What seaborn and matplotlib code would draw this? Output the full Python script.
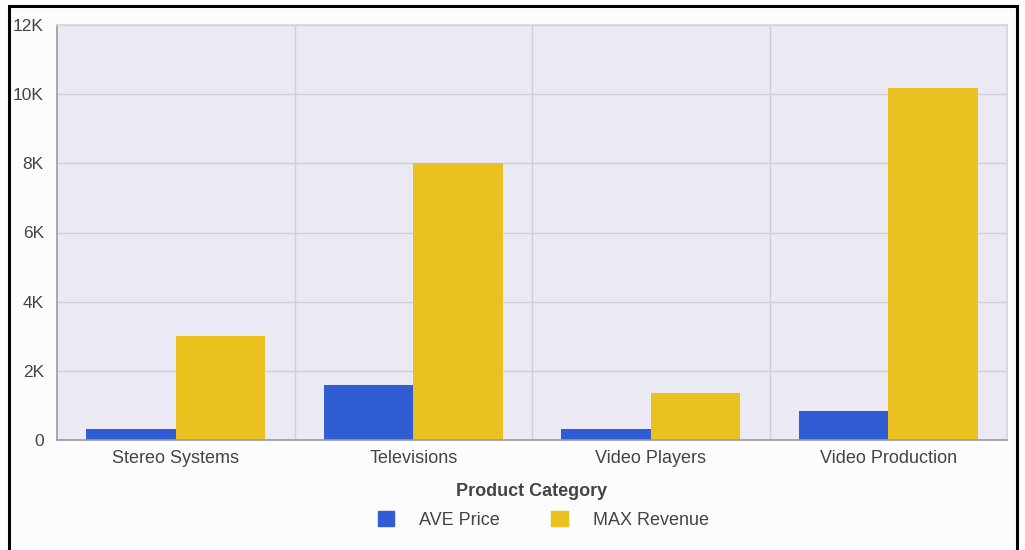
import pandas as pd
import seaborn as sns
import matplotlib.pyplot as plt
from matplotlib.patches import Rectangle
from matplotlib.ticker import FuncFormatter, FixedLocator

# data
categories = ["Stereo Systems", "Televisions", "Video Players", "Video Production"]
ave_price = [320, 1590, 320, 840]
max_revenue = [3020, 8010, 1360, 10180]
series_names = ["AVE Price", "MAX Revenue"]
colors = ["#315dd4", "#ebc11f"]

df = pd.DataFrame({
    "Product Category": categories * 2,
    "value": ave_price + max_revenue,
    "series": [series_names[0]] * 4 + [series_names[1]] * 4,
})

sns.set_theme(style="white")
plt.rcParams["font.family"] = ["Liberation Sans", "DejaVu Sans"]

fig = plt.figure(figsize=(10.25, 5.5), dpi=100, facecolor="#fbfcfb")
ax = fig.add_axes([57 / 1025, 1 - 440 / 550, 950 / 1025, 415 / 550])
ax.set_facecolor("#ebe9f3")

sns.barplot(data=df, x="Product Category", y="value", hue="series",
            palette=colors, width=0.755, saturation=1, ax=ax, legend=False)
for p in ax.patches:
    p.set_edgecolor("none")

ax.set_xlim(-0.5, 3.5)
ax.set_ylim(0, 12000)
ax.set_yticks(range(0, 12001, 2000))
ax.yaxis.set_major_formatter(FuncFormatter(lambda v, _: "0" if v == 0 else f"{int(v/1000)}K"))
ax.xaxis.set_minor_locator(FixedLocator([0.5, 1.5, 2.5]))
ax.grid(axis="y", which="major", color="#cfcfd4", lw=1)
ax.grid(axis="x", which="minor", color="#cfcfd4", lw=1)
ax.set_axisbelow(True)

ax.tick_params(axis="both", which="both", length=0, labelcolor="#444444", labelsize=13)
ax.tick_params(axis="y", pad=9.5, labelsize=12.5)
ax.tick_params(axis="x", pad=7)

for side in ["top", "right"]:
    ax.spines[side].set_color("#d6d6d8")
for side in ["left", "bottom"]:
    ax.spines[side].set_color("#9a9a9e")
    ax.spines[side].set_linewidth(1.2)

ax.set_ylabel("")
ax.set_xlabel("Product Category", fontsize=13, fontweight="bold", color="#444444", labelpad=12)

handles = [Rectangle((0, 0), 1, 1, color=c) for c in colors]
fig.legend(handles, series_names, loc="center", bbox_to_anchor=(0.53, 1 - 520 / 550),
           ncol=2, frameon=False, fontsize=13, handlelength=0.9, handleheight=0.9,
           columnspacing=2.85, handletextpad=1.4, labelcolor="#444444")

# outer frame
fig.add_artist(Rectangle((9 / 1025, -0.05), 1008 / 1025, 1.05 - 6 / 550,
                         transform=fig.transFigure, fill=False, ec="black", lw=2.2))

fig.savefig("out.png", dpi=100, facecolor=fig.get_facecolor())
